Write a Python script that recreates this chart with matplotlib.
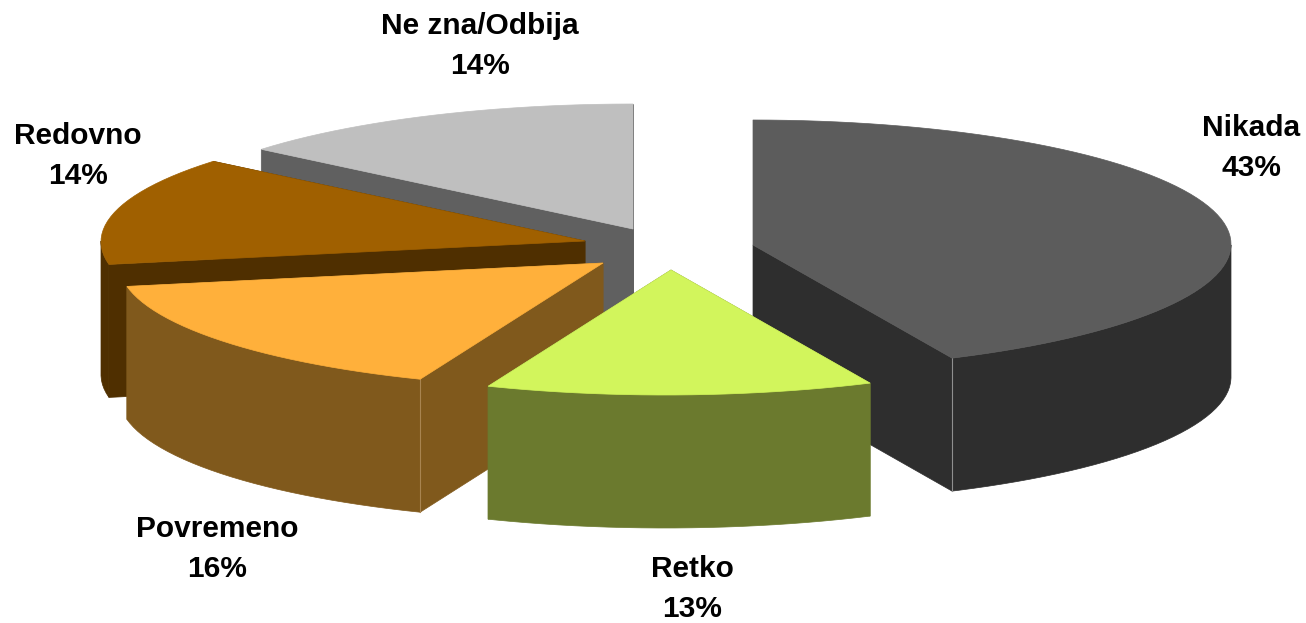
import numpy as np
import matplotlib
matplotlib.use("Agg")
from matplotlib import pyplot as plt
from matplotlib.patches import Polygon

plt.rcParams['font.family'] = ['Liberation Sans', 'DejaVu Sans']

categories = ["Nikada", "Retko", "Povremeno", "Redovno", "Ne zna/Odbija"]
shares = [43, 13, 16, 14, 14]

top_colors = ["#5c5c5c", "#d2f55c", "#ffb03b", "#a06000", "#bfbfbf"]
side_colors = ["#2e2e2e", "#6b7a2e", "#80591c", "#4f2f00", "#606060"]

# where each exploded wedge has its tip, in picture pixels
tips_x = [753, 671, 603, 585, 633]
tips_y = [245, 270, 263, 241, 229]
label_x = [1251, 692, 217, 78, 480]
label_y = [148, 589, 549, 156, 46]

RX, RY = 481, 125
DEPTH = 133
SKEW = 6  # the front of the pie leans a little to the left


def rim_points(tip_x, tip_y, angles):
    t = np.radians(angles)
    x = tip_x + RX * np.sin(t) - SKEW * (1 - np.cos(t)) / 2
    y = tip_y - RY * np.cos(t)
    return x, y


def draw_side(ax, x, y, color, z):
    pts = np.r_[np.c_[x, y], np.c_[x, y + DEPTH][::-1]]
    ax.add_patch(Polygon(pts, closed=True, facecolor=color, edgecolor=color,
                         linewidth=0.5, zorder=z))


def draw_wedge(ax, i, start, stop, z):
    angles = np.r_[np.arange(start, stop, 2.0), stop]
    x, y = rim_points(tips_x[i], tips_y[i], angles)
    tx, ty = tips_x[i], tips_y[i]
    draw_side(ax, np.array([tx, x[0]]), np.array([ty, y[0]]), side_colors[i], z)
    draw_side(ax, np.array([tx, x[-1]]), np.array([ty, y[-1]]), side_colors[i], z)
    # only the front half of the rim can be seen
    front = np.r_[max(start, 90), angles[(angles > max(start, 90)) & (angles < min(stop, 270))], min(stop, 270)]
    if front[-1] > front[0]:
        fx, fy = rim_points(tx, ty, front)
        draw_side(ax, fx, fy, side_colors[i], z)
    ax.add_patch(Polygon(np.r_[[[tx, ty]], np.c_[x, y]], closed=True, facecolor=top_colors[i],
                         edgecolor=top_colors[i], linewidth=0.5, zorder=z + 0.2))
    return x, y


fig = plt.figure(figsize=(13.06, 6.23), dpi=100)
ax = fig.add_axes([0, 0, 1, 1])
ax.set_xlim(0, 1306)
ax.set_ylim(623, 0)
ax.axis("off")

stops = np.cumsum(shares) / np.sum(shares) * 360
starts = np.r_[0, stops[:-1]]

# back wedges first, front wedges paint over them
order = np.argsort(tips_y)
for z, i in enumerate(order):
    x, y = draw_wedge(ax, int(i), starts[i], stops[i], z + 1)
    # thin lit edge where the cut face meets the rim
    if categories[i] == "Nikada":
        ax.plot([x[-1], x[-1]], [y[-1], y[-1] + DEPTH], color="#8f8f8f", lw=0.8, zorder=z + 1.1)
    if categories[i] == "Povremeno":
        ax.plot([x[0], x[0]], [y[0], y[0] + DEPTH], color="#a88450", lw=0.8, zorder=z + 1.1)

for i, name in enumerate(categories):
    ax.text(label_x[i], label_y[i], f"{name}\n{shares[i]}%", ha="center", va="center",
            fontsize=21.5, fontweight="bold", color="black", linespacing=1.55, zorder=20)

fig.savefig("out.png", dpi=100)
plt.close(fig)
